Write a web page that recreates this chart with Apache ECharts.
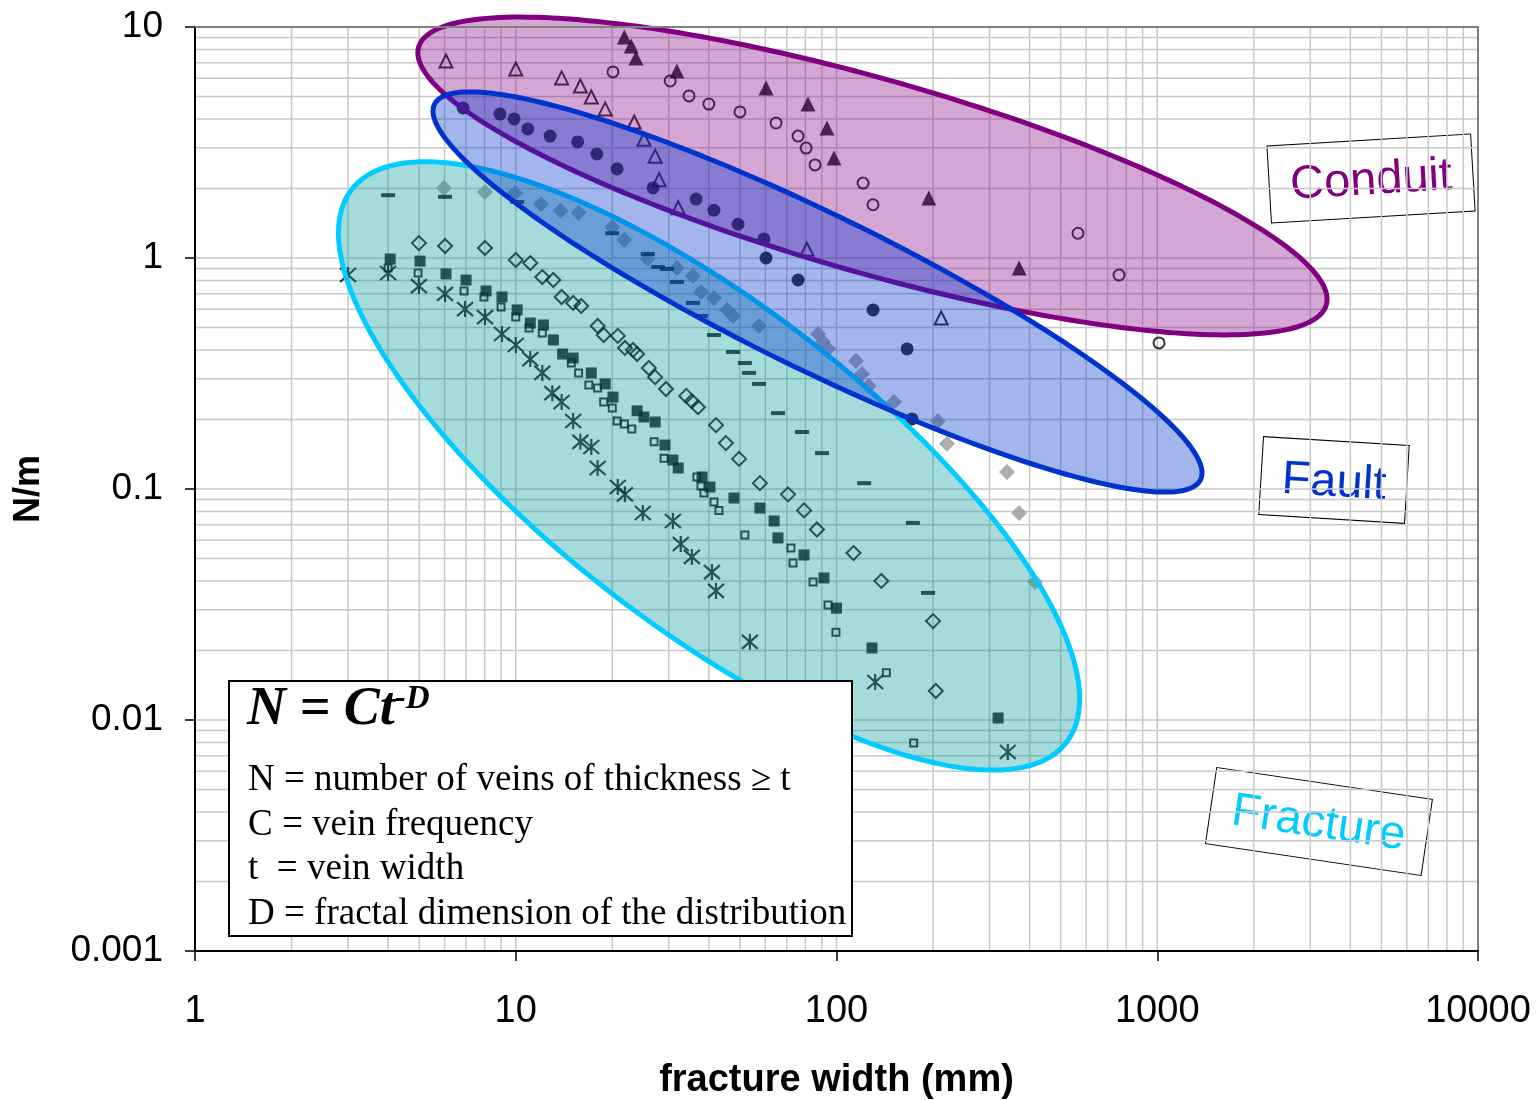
<!DOCTYPE html>
<html>
<head>
<meta charset="utf-8">
<title>Vein width distribution</title>
<script src="https://cdn.jsdelivr.net/npm/echarts@6/dist/echarts.min.js"></script>
<style>
  html, body { margin: 0; padding: 0; background: #ffffff; }
  #chart { width: 1537px; height: 1100px; }
</style>
</head>
<body>
<div id="chart"></div>
<script>
// ---- tick labels -------------------------------------------------------
const xTickLabels = ['1', '10', '100', '1000', '10000'];      // 10^0 .. 10^4
const yTickLabels = ['0.001', '0.01', '0.1', '1', '10'];      // 10^-3 .. 10^1

// ---- conduit data sets: [width mm, N/m] --------------------------------
const conduitFilledTriangles = [
  [21.8, 9.05], [22.9, 8.27], [23.7, 7.34], [31.8, 6.45], [60.3, 5.45],
  [81.5, 4.64], [93.4, 3.65], [98.2, 2.71], [194, 1.82], [371, 0.905]
];
const conduitOpenTriangles = [
  [6.06, 7.13], [10.0, 6.58], [13.9, 6.02], [15.9, 5.55], [17.2, 4.98],
  [19.0, 4.42], [23.4, 3.88], [25.1, 3.27], [27.2, 2.76], [28.0, 2.18],
  [32.1, 1.65], [80.9, 1.09], [212, 0.55]
];
const conduitOpenCircles = [
  [20.1, 6.39], [30.3, 5.84], [34.7, 5.03], [40.0, 4.64], [50.0, 4.29],
  [64.8, 3.84], [75.9, 3.37], [80.4, 2.99], [85.7, 2.53], [121, 2.11],
  [130, 1.70], [566, 1.28], [760, 0.844], [1013, 0.429]
];

// ---- fault data set ----------------------------------------------------
const faultCircles = [
  [6.85, 4.46], [8.93, 4.20], [9.88, 4.00], [10.9, 3.62], [12.8, 3.37],
  [15.6, 3.18], [17.9, 2.82], [20.7, 2.43], [26.8, 2.01], [36.5, 1.80],
  [41.5, 1.61], [49.3, 1.40], [59.4, 1.21], [60.3, 1.00], [75.9, 0.803],
  [130, 0.596], [166, 0.404], [172, 0.201]
];

// ---- fracture data sets ------------------------------------------------
const greyDiamonds = [
  [5.97, 2.01], [8.02, 1.93], [9.95, 1.91], [12.0, 1.71], [13.8, 1.60],
  [15.7, 1.57], [20.0, 1.36], [21.8, 1.20], [25.8, 0.99], [31.8, 0.905],
  [35.7, 0.836], [37.8, 0.713], [41.5, 0.671], [45.6, 0.596], [47.6, 0.561],
  [57.3, 0.508], [87.6, 0.469], [90.8, 0.433], [94.1, 0.404], [115, 0.358],
  [120, 0.315], [126, 0.279], [151, 0.238], [207, 0.197], [221, 0.157],
  [340, 0.1185], [371, 0.0787], [416, 0.0396]
];
const dashSet = [
  [4.0, 1.87], [6.02, 1.84], [10.1, 1.75], [20.0, 1.28], [25.8, 1.04],
  [27.8, 0.914], [29.6, 0.896], [31.8, 0.787], [35.7, 0.639], [37.8, 0.561],
  [41.5, 0.464], [47.6, 0.392], [51.8, 0.351], [53.4, 0.318], [57.3, 0.285],
  [65.7, 0.213], [78.1, 0.1765], [90.1, 0.143], [122, 0.106], [173, 0.0713],
  [193, 0.0355]
];
const openDiamonds = [
  [4.99, 1.16], [6.02, 1.127], [8.02, 1.105], [10.0, 0.98], [11.1, 0.951],
  [12.1, 0.827], [13.1, 0.803], [13.9, 0.678], [15.1, 0.639], [16.0, 0.62],
  [18.0, 0.508], [18.8, 0.464], [20.8, 0.46], [21.9, 0.408], [23.2, 0.40],
  [23.9, 0.384], [26.0, 0.334], [27.2, 0.305], [29.4, 0.271], [34.0, 0.253],
  [35.4, 0.240], [37.0, 0.226], [42.1, 0.189], [45.2, 0.158], [49.7, 0.135],
  [57.7, 0.106], [70.6, 0.0948], [79.2, 0.0808], [86.9, 0.0668], [113, 0.0528],
  [138, 0.040], [200, 0.0268], [204, 0.01335]
];
const filledSquares = [
  [4.06, 0.99], [5.03, 0.97], [6.06, 0.853], [7.0, 0.803], [8.08, 0.72],
  [9.06, 0.678], [10.1, 0.596], [11.1, 0.523], [12.2, 0.513], [13.1, 0.442],
  [14.0, 0.384], [15.1, 0.369], [17.2, 0.318], [19.0, 0.285], [20.1, 0.25],
  [23.9, 0.218], [25.1, 0.205], [27.2, 0.195], [29.2, 0.155], [30.9, 0.1335],
  [32.1, 0.1233], [38.1, 0.1127], [40.3, 0.102], [47.9, 0.0914], [57.7, 0.0827],
  [63.9, 0.0727], [65.7, 0.0614], [79.2, 0.0518], [91.4, 0.0412], [100, 0.0305],
  [129, 0.0205], [319, 0.0102]
];
const smallOpenSquares = [
  [4.0, 0.905], [4.96, 0.861], [6.90, 0.72], [7.96, 0.678], [9.0, 0.614],
  [10.0, 0.555], [11.0, 0.498], [12.1, 0.473], [14.9, 0.351], [15.7, 0.318],
  [16.9, 0.282], [18.0, 0.274], [18.8, 0.238], [20.0, 0.224], [20.7, 0.197],
  [21.8, 0.191], [23.0, 0.182], [27.0, 0.16], [29.0, 0.136], [36.7, 0.1127],
  [37.8, 0.103], [38.6, 0.0961], [41.5, 0.0879], [43.0, 0.0808], [51.8, 0.0632],
  [72.1, 0.0555], [73.2, 0.0478], [84.5, 0.0396], [94.1, 0.0315], [99.6, 0.024],
  [143, 0.016], [174, 0.00795]
];
const asteriskSet = [
  [3.0, 0.844], [4.0, 0.861], [4.99, 0.756], [6.02, 0.699], [6.95, 0.601],
  [8.02, 0.555], [9.06, 0.469], [10.0, 0.42], [11.1, 0.365], [12.1, 0.318],
  [13.0, 0.26], [13.9, 0.238], [15.1, 0.197], [15.9, 0.16], [17.2, 0.152],
  [18.0, 0.1233], [20.8, 0.102], [21.9, 0.0948], [24.9, 0.0787], [30.9, 0.0727],
  [32.7, 0.0578], [35.4, 0.0508], [40.9, 0.0437], [42.1, 0.0362], [53.7, 0.0218],
  [132, 0.0146], [342, 0.00727]
];

// ---- field envelopes: two tips (data coords) + width/length ratio ------
const zoneNames  = ['Fracture', 'Conduit', 'Fault'];
const zoneTipA   = [[3.08, 1.98], [4.98, 8.18], [5.58, 4.63]];
const zoneTipB   = [[521, 0.0080], [3365, 0.627], [1364, 0.1097]];
const zoneRatio  = [0.355, 0.205, 0.181];
const zoneFill   = ['rgba(0,153,153,0.35)', 'rgba(128,0,128,0.35)', 'rgba(0,51,204,0.36)'];
const zoneStroke = ['#00ccff', '#800080', '#0033cc'];

// ---- log grid (1..9 x 10^k) -------------------------------------------
const gridLines = [];
for (let e = 0; e < 4; e++) for (let m = 1; m < 10; m++) gridLines.push([m * Math.pow(10, e), 1, 0]);
gridLines.push([10000, 1, 0]);
for (let e = -3; e < 1; e++) for (let m = 1; m < 10; m++) gridLines.push([1, m * Math.pow(10, e), 1]);
gridLines.push([1, 10, 1]);

function renderGridLine(params, api) {
  const cs = params.coordSys;
  const kind = api.value(2);
  let shape;
  if (kind === 0) {
    const x = api.coord([api.value(0), 1])[0];
    shape = { x1: x, y1: cs.y, x2: x, y2: cs.y + cs.height };
  } else {
    const y = api.coord([1, api.value(1)])[1];
    shape = { x1: cs.x, y1: y, x2: cs.x + cs.width, y2: y };
  }
  return { type: 'line', shape: shape, style: { stroke: '#c8c8c8', lineWidth: 1.5 } };
}

function renderZone(params, api) {
  const p1 = api.coord([api.value(0), api.value(1)]);
  const p2 = api.coord([api.value(2), api.value(3)]);
  const ratio = api.value(4);
  const zi = api.value(5);
  const cx = (p1[0] + p2[0]) / 2, cy = (p1[1] + p2[1]) / 2;
  const dx = p2[0] - p1[0], dy = p2[1] - p1[1];
  const A = Math.hypot(dx, dy) / 2, B = A * ratio, th = Math.atan2(dy, dx);
  const pts = [];
  for (let i = 0; i < 240; i++) {
    const t = i / 240 * Math.PI * 2;
    const u = A * Math.cos(t), v = B * Math.sin(t);
    pts.push([cx + u * Math.cos(th) - v * Math.sin(th), cy + u * Math.sin(th) + v * Math.cos(th)]);
  }
  return {
    type: 'polygon',
    shape: { points: pts },
    style: { fill: zoneFill[zi], stroke: zoneStroke[zi], lineWidth: 5 }
  };
}

const zoneData = zoneNames.map((n, i) => [zoneTipA[i][0], zoneTipA[i][1], zoneTipB[i][0], zoneTipB[i][1], zoneRatio[i], i]);

const SANS = '"Liberation Sans", Arial, sans-serif';
const SERIF = '"Liberation Serif", "Times New Roman", serif';
const HOLLOW = 'rgba(0,0,0,0)';
const ASTERISK = 'path://M0,0L12,14M12,0L0,14M6,-1L6,15';

function pts(name, data, symbol, size, style) {
  return { type: 'scatter', name: name, data: data, symbol: symbol, symbolSize: size,
           itemStyle: style, z: 2, silent: true };
}

const chart = echarts.init(document.getElementById('chart'), null, { renderer: 'canvas' });

const option = {
  animation: false,
  backgroundColor: '#ffffff',
  textStyle: { fontFamily: SANS },
  grid: { left: 195, top: 27, width: 1283, height: 924, containLabel: false, outerBoundsMode: 'none' },
  xAxis: [{
    type: 'log', logBase: 10, min: 1, max: 10000, position: 'bottom', z: 10,
    axisLine: { onZero: false, lineStyle: { color: '#000', width: 2 } },
    axisTick: { length: 10, lineStyle: { color: '#000', width: 1.5 } },
    axisLabel: {
      margin: 42, fontSize: 38, color: '#000', fontFamily: SANS,
      formatter: v => xTickLabels[Math.round(Math.log10(v))]
    },
    splitLine: { show: false },
    name: 'fracture width (mm)', nameLocation: 'middle', nameGap: 111,
    nameTextStyle: { fontSize: 38, fontWeight: 'bold', color: '#000', fontFamily: SANS }
  }, {
    type: 'log', logBase: 10, min: 1, max: 10000, position: 'top', z: 10,
    axisLine: { onZero: false, lineStyle: { color: '#808080', width: 2 } },
    axisTick: { show: false }, axisLabel: { show: false }, splitLine: { show: false }
  }],
  yAxis: [{
    type: 'log', logBase: 10, min: 0.001, max: 10, position: 'left', z: 10,
    axisLine: { onZero: false, lineStyle: { color: '#000', width: 2 } },
    axisTick: { length: 10, lineStyle: { color: '#000', width: 1.5 } },
    axisLabel: {
      margin: 32, fontSize: 37, color: '#000', fontFamily: SANS,
      formatter: v => yTickLabels[Math.round(Math.log10(v)) + 3]
    },
    splitLine: { show: false },
    name: 'N/m', nameLocation: 'middle', nameGap: 148, nameRotate: 90,
    nameTextStyle: { fontSize: 36, fontWeight: 'bold', color: '#000', fontFamily: SANS }
  }, {
    type: 'log', logBase: 10, min: 0.001, max: 10, position: 'right', z: 10,
    axisLine: { onZero: false, lineStyle: { color: '#808080', width: 2 } },
    axisTick: { show: false }, axisLabel: { show: false }, splitLine: { show: false }
  }],
  series: [
    { type: 'custom', name: 'grid', data: gridLines, renderItem: renderGridLine,
      encode: { x: 0, y: 1 }, z: 1, silent: true },

    pts('Conduit ▲', conduitFilledTriangles, 'triangle', 15, { color: '#000' }),
    pts('Conduit △', conduitOpenTriangles, 'triangle', 13, { color: HOLLOW, borderColor: '#000', borderWidth: 2 }),
    pts('Conduit ○', conduitOpenCircles, 'circle', 11, { color: HOLLOW, borderColor: '#000', borderWidth: 2 }),
    pts('Fault ●', faultCircles, 'circle', 13, { color: '#000' }),
    pts('Fracture ◆ grey', greyDiamonds, 'diamond', 16, { color: '#999999' }),
    pts('Fracture –', dashSet, 'rect', [14, 4], { color: '#000' }),
    pts('Fracture ◇', openDiamonds, 'diamond', 14, { color: HOLLOW, borderColor: '#000', borderWidth: 2 }),
    pts('Fracture ■', filledSquares, 'rect', 11, { color: '#000' }),
    pts('Fracture □', smallOpenSquares, 'rect', 7, { color: HOLLOW, borderColor: '#000', borderWidth: 2 }),
    pts('Fracture ✳', asteriskSet, ASTERISK, 16, { color: HOLLOW, borderColor: '#000', borderWidth: 2.2 }),

    { type: 'custom', name: 'zones', data: zoneData, renderItem: renderZone,
      encode: { x: [0, 2], y: [1, 3] }, z: 3, silent: true, clip: false }
  ],
  graphic: [
    // field labels
    { type: 'group', x: 1371, y: 178, rotation: 0.059, z: 100, children: [
      { type: 'rect', shape: { x: -102, y: -38, width: 204, height: 77 },
        style: { fill: '#fff', stroke: '#000', lineWidth: 1 } },
      { type: 'text', style: { text: 'Conduit', x: 0, y: 3, align: 'center', verticalAlign: 'middle',
        textAlign: 'center', textVerticalAlign: 'middle', font: '47px ' + SANS, fill: '#800080' } }
    ]},
    { type: 'group', x: 1334, y: 480, rotation: -0.061, z: 100, children: [
      { type: 'rect', shape: { x: -73, y: -39, width: 146, height: 78 },
        style: { fill: '#fff', stroke: '#000', lineWidth: 1 } },
      { type: 'text', style: { text: 'Fault', x: 0, y: 3, align: 'center', verticalAlign: 'middle',
        textAlign: 'center', textVerticalAlign: 'middle', font: '47px ' + SANS, fill: '#0033cc' } }
    ]},
    { type: 'group', x: 1319, y: 821, rotation: -0.147, z: 100, children: [
      { type: 'rect', shape: { x: -109, y: -38, width: 218, height: 77 },
        style: { fill: '#fff', stroke: '#000', lineWidth: 1 } },
      { type: 'text', style: { text: 'Fracture', x: 0, y: 3, align: 'center', verticalAlign: 'middle',
        textAlign: 'center', textVerticalAlign: 'middle', font: '47px ' + SANS, fill: '#00ccff' } }
    ]},
    // power-law legend box
    { type: 'rect', z: 100, shape: { x: 229, y: 681, width: 623, height: 255 },
      style: { fill: '#fff', stroke: '#000', lineWidth: 2 } },
    { type: 'text', z: 101, style: {
        text: '{m|N = Ct}{s|-D}', x: 247, y: 710, verticalAlign: 'middle', textVerticalAlign: 'middle',
        rich: {
          m: { font: 'italic bold 54px ' + SERIF, fill: '#000' },
          s: { font: 'italic bold 33px ' + SERIF, fill: '#000', verticalAlign: 'top' }
        } } },
    { type: 'text', z: 101, style: { text: 'N = number of veins of thickness \u2265 t', x: 248, y: 780,
        verticalAlign: 'middle', textVerticalAlign: 'middle', font: '37px ' + SERIF, fill: '#000' } },
    { type: 'text', z: 101, style: { text: 'C = vein frequency', x: 248, y: 825,
        verticalAlign: 'middle', textVerticalAlign: 'middle', font: '37px ' + SERIF, fill: '#000' } },
    { type: 'text', z: 101, style: { text: 't  = vein width', x: 248, y: 869,
        verticalAlign: 'middle', textVerticalAlign: 'middle', font: '37px ' + SERIF, fill: '#000' } },
    { type: 'text', z: 101, style: { text: 'D = fractal dimension of the distribution', x: 248, y: 914,
        verticalAlign: 'middle', textVerticalAlign: 'middle', font: '37px ' + SERIF, fill: '#000' } }
  ]
};

chart.setOption(option);
</script>
</body>
</html>
